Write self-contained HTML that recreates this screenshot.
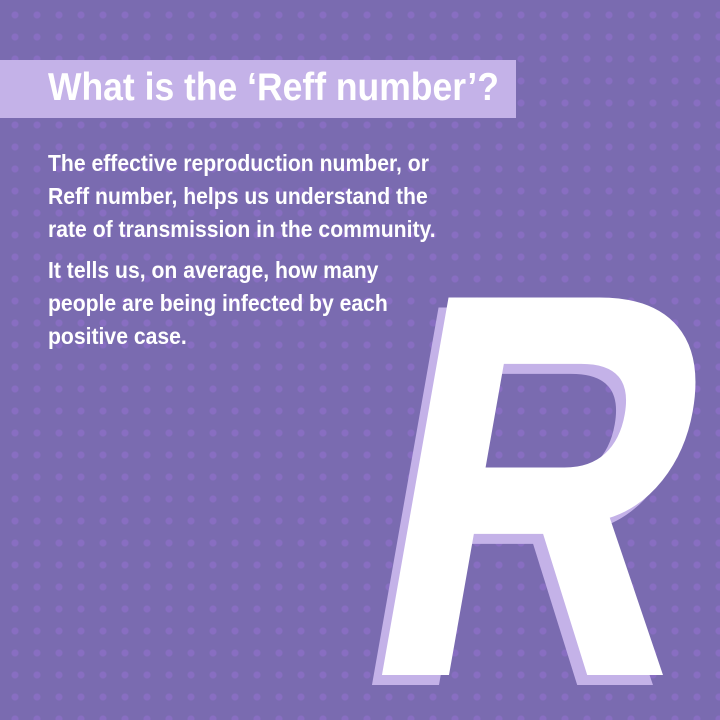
<!DOCTYPE html>
<html><head><meta charset="utf-8"><style>
html,body{margin:0;overflow:hidden;width:720px;height:720px}
#root{position:relative;width:720px;height:720px;overflow:hidden;background:#7a6bb0;font-family:"Liberation Sans",sans-serif}
#dots{position:absolute;inset:0;background-image:radial-gradient(circle,#8c6fc6 0 3px,transparent 4px);background-size:22px 22px;background-position:4px 4px;opacity:.8}
#banner{position:absolute;left:0;top:60px;width:516px;height:58px;background:#c4b2e8}
.t{position:absolute;left:48px;color:#fff;font-weight:bold;white-space:nowrap;transform-origin:0 0;transform:scaleX(.92)}
#title{top:63px;font-size:39px;line-height:50px;transform:scaleX(.91)}
.p{font-size:23px;line-height:33px}
</style></head><body>
<div id="root">
<div id="dots"></div>
<div id="banner"></div>
<div id="title" class="t">What is the ‘Reff number’?</div>
<div class="t p" style="top:147px">The effective reproduction number, or<br>Reff number, helps us understand the<br>rate of transmission in the community.</div>
<div class="t p" style="top:254px">It tells us, on average, how many<br>people are being infected by each<br>positive case.</div>
<svg width="720" height="720" style="position:absolute;left:0;top:0;overflow:hidden">
<text transform="translate(378,682) skewX(-10) scale(0.8,1)" x="-40" y="0" font-family="Liberation Sans" font-weight="bold" font-size="540" fill="#c4b2e8" stroke="#c4b2e8" stroke-width="6">R</text>
<text transform="translate(388,672) skewX(-10) scale(0.8,1)" x="-40" y="0" font-family="Liberation Sans" font-weight="bold" font-size="540" fill="#ffffff" stroke="#ffffff" stroke-width="6">R</text>
</svg>
</div>
</body></html>
